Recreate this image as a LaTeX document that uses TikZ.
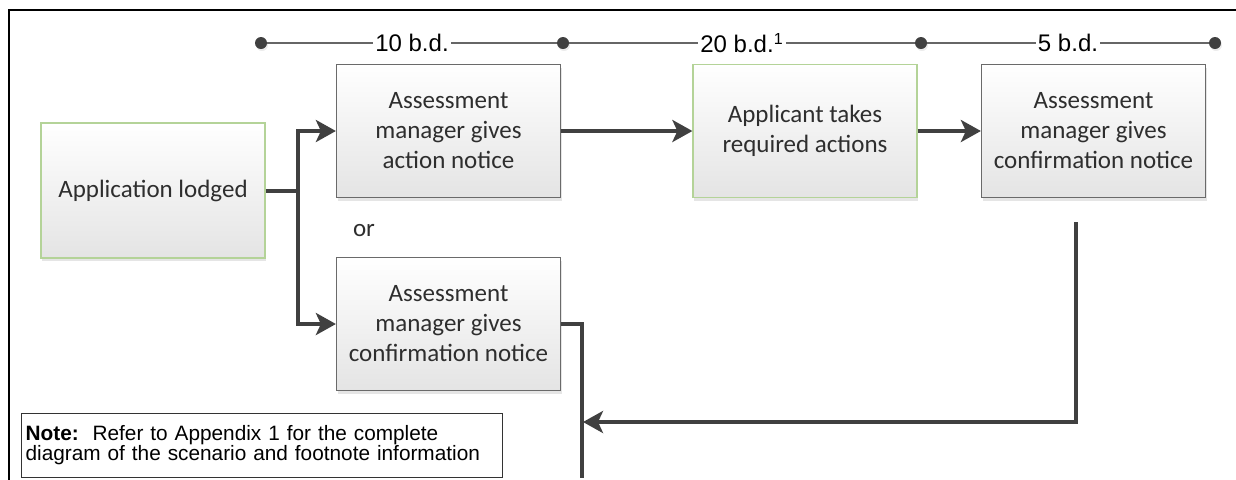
\documentclass[tikz,border=0pt]{standalone}
\usepackage{fontspec}
\setmainfont{Carlito}
\newfontfamily\labfont{Liberation Sans}
\usetikzlibrary{arrows.meta,positioning,shadows}
\definecolor{lnColor}{HTML}{404040}
\definecolor{edgeColor}{HTML}{6A6A6A}
\definecolor{grnColor}{HTML}{B4D398}
\definecolor{botColor}{HTML}{E4E4E4}
\definecolor{txtColor}{HTML}{2E2E2E}
\tikzset{
	stepbox/.style={draw=edgeColor, line width=0.6pt, top color=white, bottom color=botColor,
		minimum width=112pt, minimum height=66.5pt, inner sep=0pt, align=center, text=txtColor,
		font=\fontsize{12.5}{15}\selectfont,
		drop shadow={shadow xshift=0.5pt, shadow yshift=-1.5pt, fill=black!20}},
	grnbox/.style={stepbox, draw=grnColor},
	tdot/.style={circle, fill=lnColor, minimum size=6pt, inner sep=0pt,
		drop shadow={shadow xshift=0.5pt, shadow yshift=-1pt, fill=black!15}},
	tline/.style={draw=lnColor!80, line width=0.6pt},
	dur/.style={fill=white, inner sep=1pt, font=\labfont\fontsize{12}{14}\selectfont},
	flow/.style={draw=lnColor, line width=2pt, -{Stealth[length=10pt,width=11pt,inset=2.5pt]}},
	wire/.style={draw=lnColor, line width=2pt}
}

\begin{document}
\begin{tikzpicture}[x=0.5pt, y=-0.5pt]
	\useasboundingbox (0,0) rectangle (1236,479);
	\draw[line width=1pt] (9,480) -- (9,10) -- (1237,10);

	\node[tdot] (d0) at (261,43) {};
	\node[tdot] (d1) at (563,43) {};
	\node[tdot] (d2) at (921,43) {};
	\node[tdot] (d3) at (1215,43) {};
	\draw[tline] (d0) -- node[dur] {10 b.d.} (d1);
	\draw[tline] (d1) -- node[dur] {20 b.d.\textsuperscript{1}} (d2);
	\draw[tline] (d2) -- node[dur] {5 b.d.} (d3);

	\node[grnbox, minimum height=67.5pt] (lodged) at (153,190.5) {Application lodged};
	\node[stepbox] (actn) at (448.5,131) {Assessment\\manager gives\\action notice};
	\node[grnbox] (takes) at (805,131) {Applicant takes\\required actions};
	\node[stepbox] (conf) at (1093.5,131) {Assessment\\manager gives\\confirmation notice};
	\node[stepbox] (conf2) at (448.5,324) {Assessment\\manager gives\\confirmation notice};
	\node[text=txtColor, font=\fontsize{12.5}{15}\selectfont] (or) at (364,230) {or};

	\node[draw=black!80, line width=0.6pt, fill=white, anchor=north west, minimum width=240.5pt,
		minimum height=32pt, text width=236.5pt, inner xsep=2pt, align=left,
		font=\labfont\fontsize{10.4}{10}\selectfont] (note) at (21,413)
		{\textbf{Note:}\ \ Refer to Appendix 1 for the complete\\diagram of the scenario and footnote information};

	\coordinate (split) at (298,190.5);
	\coordinate (down) at (1076,222);
	\coordinate (merge) at (583,422);
	\coordinate (exit) at (582,478);
	\draw[wire] (lodged) -- (split);
	\draw[flow] (split) |- (actn);
	\draw[flow] (split) |- (conf2);
	\draw[flow] (actn) -- (takes);
	\draw[flow] (takes) -- (conf);
	\draw[flow] (down) |- (merge);
	\draw[wire] (conf2) -| (exit);
\end{tikzpicture}
\end{document}
